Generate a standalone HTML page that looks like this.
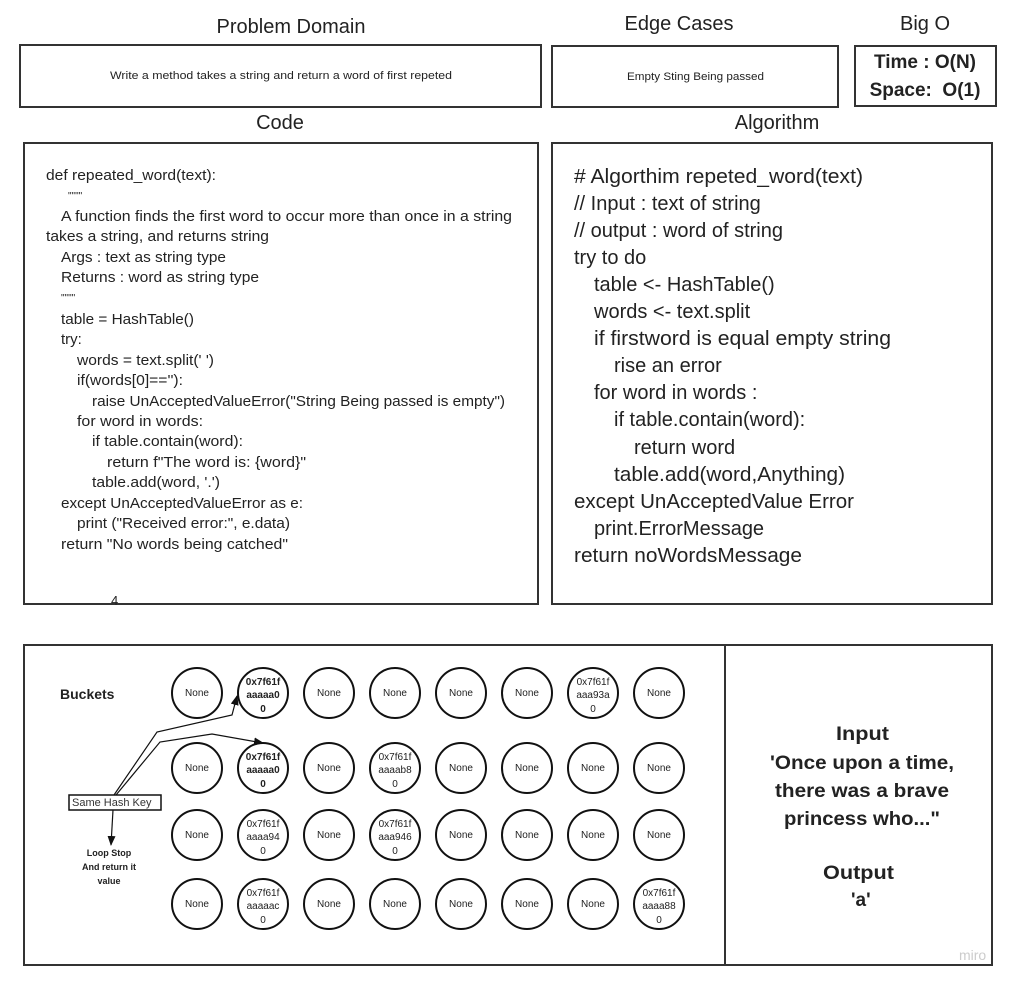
<!DOCTYPE html>
<html><head><meta charset="utf-8"><style>
html,body{margin:0;padding:0;background:#fff;}
svg{display:block;}
text{font-family:"Liberation Sans",sans-serif;fill:#222;}
.b{font-weight:bold;}
</style></head><body>
<svg width="1016" height="984" viewBox="0 0 1016 984" xmlns="http://www.w3.org/2000/svg">
<defs><marker id="ah" markerWidth="10" markerHeight="10" refX="9" refY="5" orient="auto" markerUnits="userSpaceOnUse"><path d="M0,1 L10,5 L0,9 z" fill="#111"/></marker></defs>
<g fill="none" stroke="#333" stroke-width="2">
<rect x="20" y="45" width="521" height="62"/>
<rect x="552" y="46" width="286" height="61"/>
<rect x="855" y="46" width="141" height="60"/>
<rect x="24" y="143" width="514" height="461"/>
<rect x="552" y="143" width="440" height="461"/>
<rect x="24" y="645" width="701" height="320"/>
<rect x="725" y="645" width="267" height="320"/>
</g>
<g font-size="20" text-anchor="middle">
<text x="291" y="33">Problem Domain</text>
<text x="679" y="30">Edge Cases</text>
<text x="925" y="30">Big O</text>
<text x="280" y="129">Code</text>
<text x="777" y="129">Algorithm</text>
</g>
<text x="110" y="79" font-size="11" textLength="342" lengthAdjust="spacingAndGlyphs">Write a method takes a string and return a word of first repeted</text>
<text x="627" y="80" font-size="11" textLength="137" lengthAdjust="spacingAndGlyphs">Empty Sting Being passed</text>
<text x="925" y="68" font-size="19" class="b" text-anchor="middle">Time : O(N)</text>
<text x="925" y="96" font-size="19" class="b" text-anchor="middle">Space:&#160; O(1)</text>
<g font-size="15">
<text x="46" y="180" textLength="170" lengthAdjust="spacingAndGlyphs">def repeated_word(text):</text>
<text x="68" y="199" font-size="10">""""</text>
<text x="61" y="221" textLength="451" lengthAdjust="spacingAndGlyphs">A function finds the first word to occur more than once in a string</text>
<text x="46" y="241" textLength="223" lengthAdjust="spacingAndGlyphs">takes a string, and returns string</text>
<text x="61" y="262" textLength="165" lengthAdjust="spacingAndGlyphs">Args : text as string type</text>
<text x="61" y="282" textLength="198" lengthAdjust="spacingAndGlyphs">Returns : word as string type</text>
<text x="61" y="301" font-size="10">""""</text>
<text x="61" y="324" textLength="133" lengthAdjust="spacingAndGlyphs">table = HashTable()</text>
<text x="61" y="344">try:</text>
<text x="77" y="365" textLength="137" lengthAdjust="spacingAndGlyphs">words = text.split(' ')</text>
<text x="77" y="385" textLength="106" lengthAdjust="spacingAndGlyphs">if(words[0]==''):</text>
<text x="92" y="406" textLength="413" lengthAdjust="spacingAndGlyphs">raise UnAcceptedValueError("String Being passed is empty")</text>
<text x="77" y="426" textLength="126" lengthAdjust="spacingAndGlyphs">for word in words:</text>
<text x="92" y="446" textLength="151" lengthAdjust="spacingAndGlyphs">if table.contain(word):</text>
<text x="107" y="467" textLength="199" lengthAdjust="spacingAndGlyphs">return f"The word is: {word}"</text>
<text x="92" y="487" textLength="128" lengthAdjust="spacingAndGlyphs">table.add(word, '.')</text>
<text x="61" y="508" textLength="242" lengthAdjust="spacingAndGlyphs">except UnAcceptedValueError as e:</text>
<text x="77" y="528" textLength="213" lengthAdjust="spacingAndGlyphs">print ("Received error:", e.data)</text>
<text x="61" y="549" textLength="227" lengthAdjust="spacingAndGlyphs">return "No words being catched"</text>
<text x="111" y="605" font-size="13">4</text>
</g>
<g font-size="20">
<text x="574" y="183" textLength="289" lengthAdjust="spacingAndGlyphs"># Algorthim repeted_word(text)</text>
<text x="574" y="210">// Input : text of string</text>
<text x="574" y="237">// output : word of string</text>
<text x="574" y="264">try to do</text>
<text x="594" y="291">table &lt;- HashTable()</text>
<text x="594" y="318">words &lt;- text.split</text>
<text x="594" y="345" textLength="297" lengthAdjust="spacingAndGlyphs">if firstword is equal empty string</text>
<text x="614" y="372">rise an error</text>
<text x="594" y="399">for word in words :</text>
<text x="614" y="426">if table.contain(word):</text>
<text x="634" y="454">return word</text>
<text x="614" y="481" textLength="231" lengthAdjust="spacingAndGlyphs">table.add(word,Anything)</text>
<text x="574" y="508" textLength="280" lengthAdjust="spacingAndGlyphs">except UnAcceptedValue Error</text>
<text x="594" y="535">print.ErrorMessage</text>
<text x="574" y="562" textLength="228" lengthAdjust="spacingAndGlyphs">return noWordsMessage</text>
</g>
<text x="60" y="699" font-size="14" class="b">Buckets</text>
<g fill="#fff" stroke="#111" stroke-width="2">
<circle cx="197" cy="693" r="25"/><circle cx="263" cy="693" r="25"/><circle cx="329" cy="693" r="25"/><circle cx="395" cy="693" r="25"/><circle cx="461" cy="693" r="25"/><circle cx="527" cy="693" r="25"/><circle cx="593" cy="693" r="25"/><circle cx="659" cy="693" r="25"/>
<circle cx="197" cy="768" r="25"/><circle cx="263" cy="768" r="25"/><circle cx="329" cy="768" r="25"/><circle cx="395" cy="768" r="25"/><circle cx="461" cy="768" r="25"/><circle cx="527" cy="768" r="25"/><circle cx="593" cy="768" r="25"/><circle cx="659" cy="768" r="25"/>
<circle cx="197" cy="835" r="25"/><circle cx="263" cy="835" r="25"/><circle cx="329" cy="835" r="25"/><circle cx="395" cy="835" r="25"/><circle cx="461" cy="835" r="25"/><circle cx="527" cy="835" r="25"/><circle cx="593" cy="835" r="25"/><circle cx="659" cy="835" r="25"/>
<circle cx="197" cy="904" r="25"/><circle cx="263" cy="904" r="25"/><circle cx="329" cy="904" r="25"/><circle cx="395" cy="904" r="25"/><circle cx="461" cy="904" r="25"/><circle cx="527" cy="904" r="25"/><circle cx="593" cy="904" r="25"/><circle cx="659" cy="904" r="25"/>
</g>
<g font-size="10" text-anchor="middle" style="fill:#333">
<text x="197" y="696">None</text><text x="329" y="696">None</text><text x="395" y="696">None</text><text x="461" y="696">None</text><text x="527" y="696">None</text><text x="659" y="696">None</text>
<text x="197" y="771">None</text><text x="329" y="771">None</text><text x="461" y="771">None</text><text x="527" y="771">None</text><text x="593" y="771">None</text><text x="659" y="771">None</text>
<text x="197" y="838">None</text><text x="329" y="838">None</text><text x="461" y="838">None</text><text x="527" y="838">None</text><text x="593" y="838">None</text><text x="659" y="838">None</text>
<text x="197" y="907">None</text><text x="329" y="907">None</text><text x="395" y="907">None</text><text x="461" y="907">None</text><text x="527" y="907">None</text><text x="593" y="907">None</text>
<g font-weight="bold"><text x="263" y="685">0x7f61f</text><text x="263" y="698">aaaaa0</text><text x="263" y="712">0</text>
<text x="263" y="760">0x7f61f</text><text x="263" y="773">aaaaa0</text><text x="263" y="787">0</text></g>
<text x="593" y="685">0x7f61f</text><text x="593" y="698">aaa93a</text><text x="593" y="712">0</text>
<text x="395" y="760">0x7f61f</text><text x="395" y="773">aaaab8</text><text x="395" y="787">0</text>
<text x="263" y="827">0x7f61f</text><text x="263" y="840">aaaa94</text><text x="263" y="854">0</text>
<text x="395" y="827">0x7f61f</text><text x="395" y="840">aaa946</text><text x="395" y="854">0</text>
<text x="263" y="896">0x7f61f</text><text x="263" y="909">aaaaac</text><text x="263" y="923">0</text>
<text x="659" y="896">0x7f61f</text><text x="659" y="909">aaaa88</text><text x="659" y="923">0</text>
</g>
<g fill="none" stroke="#111" stroke-width="1.2">
<polyline points="114,795 157,732 232,715 237,696" marker-end="url(#ah)"/>
<polyline points="116,795 160,742 212,734 263,743" marker-end="url(#ah)"/>
<line x1="113" y1="810" x2="111" y2="845" marker-end="url(#ah)"/>
</g>
<rect x="69" y="795" width="92" height="15" fill="#fff" stroke="#111" stroke-width="1.5"/>
<text x="72" y="806" font-size="11" style="fill:#333">Same Hash Key</text>
<g font-size="9" class="b" text-anchor="middle">
<text x="109" y="856">Loop Stop</text><text x="109" y="870">And return it</text><text x="109" y="884">value</text>
</g>
<g font-size="19" class="b">
<text x="836" y="740" textLength="53" lengthAdjust="spacingAndGlyphs">Input</text>
<text x="770" y="769" textLength="184" lengthAdjust="spacingAndGlyphs">'Once upon a time,</text>
<text x="775" y="797" textLength="174" lengthAdjust="spacingAndGlyphs">there was a brave</text>
<text x="784" y="825" textLength="156" lengthAdjust="spacingAndGlyphs">princess who..."</text>
<text x="823" y="879" textLength="71" lengthAdjust="spacingAndGlyphs">Output</text>
<text x="851" y="906">'a'</text>
</g>
<text x="959" y="960" font-size="14" style="fill:#ccc">miro</text>
</svg>
</body></html>
